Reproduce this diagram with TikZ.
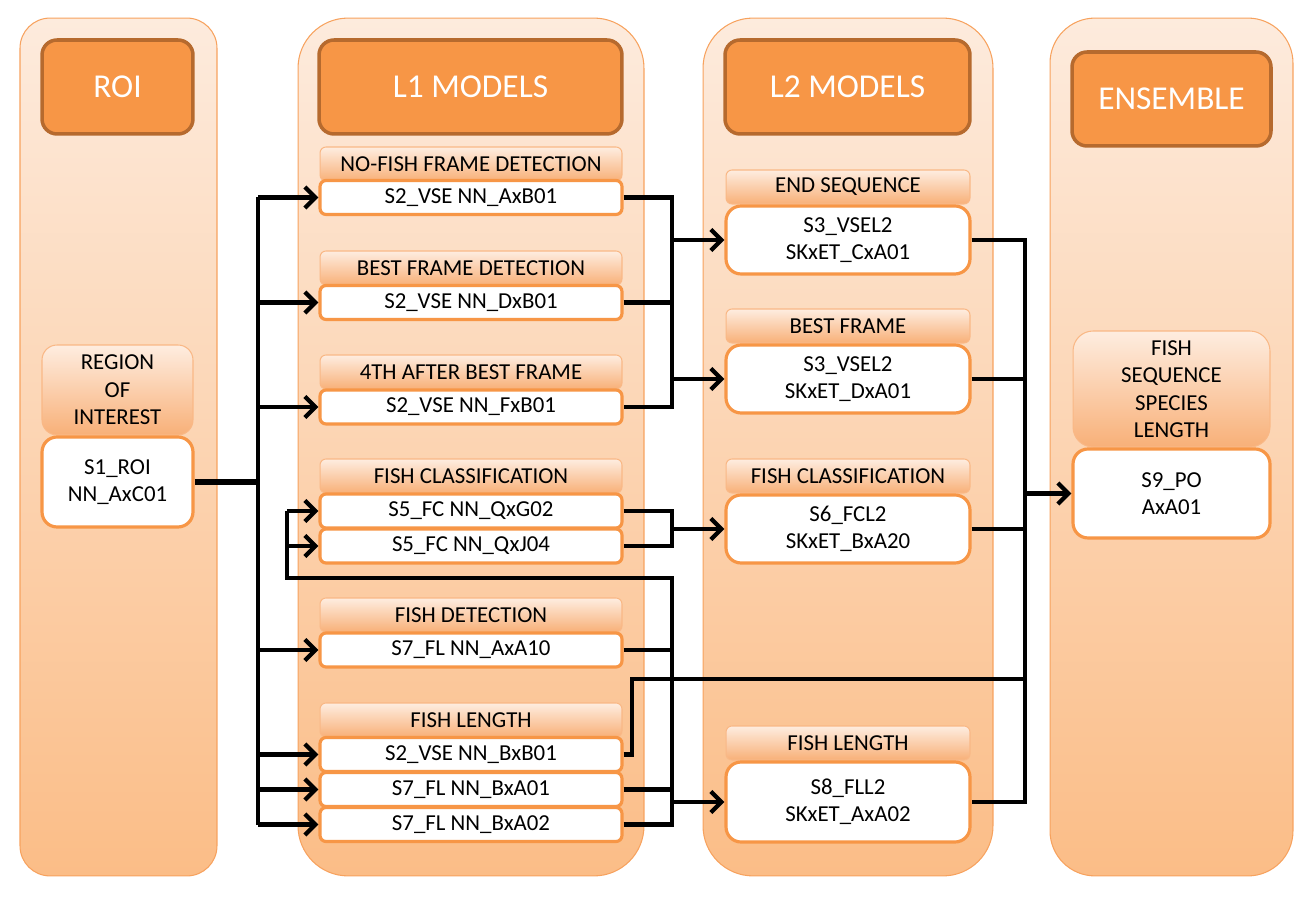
\documentclass[tikz,border=0pt]{standalone}
\usepackage{fontspec}
\setmainfont{Carlito}
\usetikzlibrary{arrows.meta}
\definecolor{orgfill}{HTML}{F79646}
\definecolor{hdrline}{HTML}{B66A2E}
\definecolor{orgline}{HTML}{F7A25E}
\definecolor{laneTop}{HTML}{FDEBDD}
\definecolor{laneBot}{HTML}{FBBD87}
\definecolor{tabTop}{HTML}{FEEDE0}
\definecolor{tabBot}{HTML}{F8B078}
\definecolor{tabline}{HTML}{F9B886}
\begin{document}
\begin{tikzpicture}[x=0.02cm,y=-0.02cm,line join=miter,
	lane/.style={draw=orgline,line width=0.6pt,top color=laneTop,bottom color=laneBot,inner sep=0,minimum height=17.16cm},
	hdr/.style={draw=hdrline,line width=2pt,fill=orgfill,rounded corners=0.3cm,text=white,inner sep=0,minimum height=1.88cm,font=\fontsize{19}{23}\selectfont},
	tab/.style={draw=tabline,line width=0.6pt,top color=tabTop,bottom color=tabBot,rounded corners=0.12cm,inner sep=0,minimum height=0.68cm,align=center,font=\fontsize{13}{15.6}\selectfont},
	mod/.style={draw=orgfill,line width=1.8pt,fill=white,rounded corners=0.12cm,inner sep=0,minimum height=0.68cm,align=center,font=\fontsize{13}{15.6}\selectfont},
	wire/.style={line width=2.4pt},
	arr/.style={wire,-{Straight Barb[length=6pt,width=12pt]}}]
		\useasboundingbox (0,0) rectangle (1315,901);
		% lanes
		\node[lane,minimum width=3.94cm,rounded corners=0.6cm] (laneroi) at (118.5,447) {};
		\node[lane,minimum width=6.92cm,rounded corners=1cm] (lanel1) at (471,447) {};
		\node[lane,minimum width=5.8cm,rounded corners=1cm] (lanel2) at (848,447) {};
		\node[lane,minimum width=4.86cm,rounded corners=0.9cm] (laneens) at (1171.5,447) {};
		% headers
		\node[hdr,minimum width=3.02cm] (hroi) at (117.5,87) {ROI};
		\node[hdr,minimum width=6.06cm] (hl1) at (470.5,87) {L1 MODELS};
		\node[hdr,minimum width=4.9cm] (hl2) at (847.5,87) {L2 MODELS};
		\node[hdr,minimum width=3.98cm] (hens) at (1171.5,99) {ENSEMBLE};
		% roi
		\node[tab,minimum width=3.02cm,minimum height=1.8cm,rounded corners=0.3cm] (troi) at (117.5,390) {REGION\\OF\\INTEREST};
		\node[mod,minimum width=3.02cm,minimum height=1.8cm,rounded corners=0.3cm] (s1) at (117.5,482) {S1\_ROI\\NN\_AxC01};
		% l1 models
		\begin{scope}[every node/.append style={minimum width=6.04cm}]
			\node[tab] (t1) at (471,164) {NO-FISH FRAME DETECTION};
			\node[mod] (s2a) at (471,197.5) {S2\_VSE NN\_AxB01};
			\node[tab] (t2) at (471,268) {BEST FRAME DETECTION};
			\node[mod] (s2d) at (471,302.5) {S2\_VSE NN\_DxB01};
			\node[tab] (t3) at (471,372) {4TH AFTER BEST FRAME};
			\node[mod] (s2f) at (471,407) {S2\_VSE NN\_FxB01};
			\node[tab] (t4) at (471,476) {FISH CLASSIFICATION};
			\node[mod] (s5g) at (471,511) {S5\_FC NN\_QxG02};
			\node[mod] (s5j) at (471,546) {S5\_FC NN\_QxJ04};
			\node[tab] (t5) at (471,615) {FISH DETECTION};
			\node[mod] (s7a) at (471,650) {S7\_FL NN\_AxA10};
			\node[tab] (t6) at (471,720) {FISH LENGTH};
			\node[mod] (s2b) at (471,754.5) {S2\_VSE NN\_BxB01};
			\node[mod] (s7b) at (471,789.5) {S7\_FL NN\_BxA01};
			\node[mod] (s7c) at (471,824.5) {S7\_FL NN\_BxA02};
		\end{scope}
		% l2 models
		\begin{scope}[every node/.append style={minimum width=4.88cm}]
			\node[tab] (u1) at (848,187) {END SEQUENCE};
			\node[mod,minimum height=1.36cm,rounded corners=0.3cm] (s3c) at (848,240) {S3\_VSEL2\\SKxET\_CxA01};
			\node[tab] (u2) at (848,326) {BEST FRAME};
			\node[mod,minimum height=1.36cm,rounded corners=0.3cm] (s3d) at (848,379) {S3\_VSEL2\\SKxET\_DxA01};
			\node[tab] (u3) at (848,476) {FISH CLASSIFICATION};
			\node[mod,minimum height=1.36cm,rounded corners=0.3cm] (s6) at (848,529) {S6\_FCL2\\SKxET\_BxA20};
			\node[tab] (u4) at (848,743) {FISH LENGTH};
			\node[mod,minimum height=1.6cm,rounded corners=0.3cm] (s8) at (848,802) {S8\_FLL2\\SKxET\_AxA02};
		\end{scope}
		% ensemble
		\node[tab,minimum width=3.94cm,minimum height=2.32cm,rounded corners=0.4cm] (tens) at (1171.5,389) {FISH\\SEQUENCE\\SPECIES\\LENGTH};
		\node[mod,minimum width=3.94cm,minimum height=1.78cm,rounded corners=0.3cm] (s9) at (1171.5,493.5) {S9\_PO\\AxA01};
		% buses
		\coordinate (busa) at (258,0);
		\coordinate (busb) at (287,0);
		\coordinate (busc) at (672,0);
		\coordinate (busd) at (632,0);
		\coordinate (buse) at (1025,0);
		\coordinate (fb) at (672,578);
		\coordinate (len) at (632,679);
		% roi to l1
		\draw[wire,line width=3.4pt] (s1.east) -- (s1.east -| busa);
		\draw[wire,line width=2.8pt] (busa |- s2a.west) -- (busa |- s7c.west);
		\foreach \n in {s2a,s2d,s2f,s7a,s2b,s7b,s7c}
			\draw[arr] (busa |- \n.west) -- (\n.west);
		% l1 to l2
		\draw[wire] (s2a.east) -| (busc |- s2f.east) -- (s2f.east);
		\draw[wire] (s2d.east) -- (s2d.east -| busc);
		\draw[arr] (busc |- s3c.west) -- (s3c.west);
		\draw[arr] (busc |- s3d.west) -- (s3d.west);
		\draw[wire] (s5g.east) -| (busc |- s5j.east) -- (s5j.east);
		\draw[arr] (busc |- s6.west) -- (s6.west);
		\draw[wire] (s7a.east) -- (s7a.east -| busc);
		\draw[wire] (s7b.east) -- (s7b.east -| busc);
		\draw[wire] (s7c.east) -| (fb) -| (busb |- s5g.west);
		\foreach \n in {s5g,s5j}
			\draw[arr] (busb |- \n.west) -- (\n.west);
		\draw[arr] (busc |- s8.west) -- (s8.west);
		% l2 to ensemble
		\draw[wire] (s3c.east) -| (buse |- s8.east) -- (s8.east);
		\draw[wire] (s3d.east) -- (s3d.east -| buse);
		\draw[wire] (s6.east) -- (s6.east -| buse);
		\draw[wire] (s2b.east) -| (len) -- (len -| buse);
		\draw[arr] (buse |- s9.west) -- (s9.west);
\end{tikzpicture}
\end{document}
